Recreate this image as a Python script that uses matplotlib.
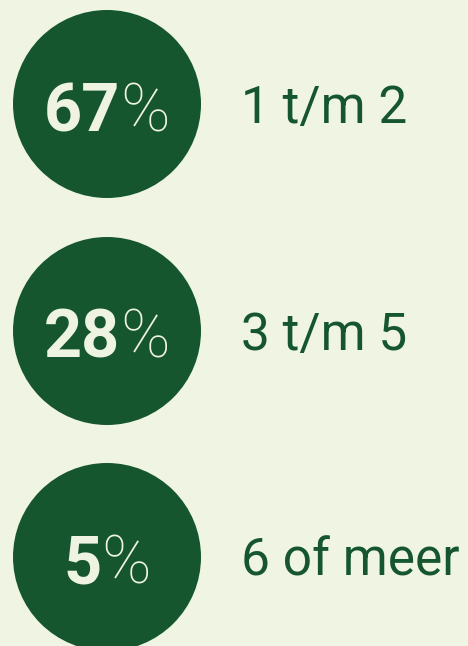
import matplotlib
matplotlib.use("Agg")
import matplotlib.pyplot as plt
from matplotlib.patches import Circle

# data
percentages = [67, 28, 5]
labels = ["1 t/m 2", "3 t/m 5", "6 of meer"]

BG = "#eff4e3"
GREEN = "#16562f"
LIGHT = "#eef3e2"

W, H = 468, 646
fig = plt.figure(figsize=(W / 100, H / 100), dpi=100, facecolor=BG)
ax = fig.add_axes([0, 0, 1, 1])
ax.set_xlim(0, W)
ax.set_ylim(H, 0)
ax.set_facecolor(BG)
ax.axis("off")

cx = 107
radius = 94
row_y = [104, 331, 557]

renderer = fig.canvas.get_renderer()
for cy, pct, lab in zip(row_y, percentages, labels):
    ax.add_patch(Circle((cx, cy), radius, color=GREEN, lw=0))

    num = ax.text(0, cy + 27, str(pct), color=LIGHT, fontsize=48,
                  fontweight="bold", family="Roboto", ha="left", va="baseline")
    sign = ax.text(0, cy + 27, "%", color=LIGHT, fontsize=48,
                   fontweight="light", family="Roboto", ha="left", va="baseline")
    w1 = num.get_window_extent(renderer).width
    w2 = sign.get_window_extent(renderer).width
    start = cx - (w1 + w2) / 2
    num.set_x(start)
    sign.set_x(start + w1)

    ax.text(241, cy + 19, lab, color=GREEN, fontsize=37, fontweight="normal",
            family="Roboto", ha="left", va="baseline")

fig.savefig("out.png", dpi=100, facecolor=BG)
